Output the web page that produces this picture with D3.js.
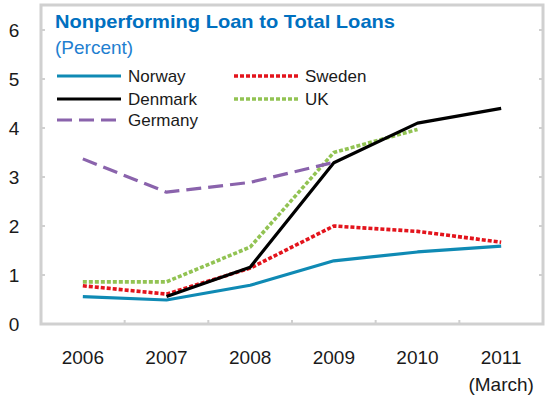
<!DOCTYPE html>
<html><head><meta charset="utf-8">
<script src="https://cdn.jsdelivr.net/npm/d3@7"></script>
<style>
body{margin:0;background:#fff;}
svg{display:block;font-family:"Liberation Sans",Arial,sans-serif;}
</style></head>
<body><svg id="c" width="547" height="396"></svg>
<script>
const years = ["2006","2007","2008","2009","2010","2011"];
const yTicks = [0,1,2,3,4,5,6];
const norway  = [0.56,0.49,0.79,1.29,1.47,1.59];
const sweden  = [0.78,0.61,1.14,2.0,1.89,1.67];
const denmark = [null,0.56,1.16,3.29,4.1,4.4];
const uk      = [0.86,0.86,1.57,3.5,3.97,null];
const germany = [3.37,2.69,2.89,3.3,null,null];
const seriesNames = ["Norway","Sweden","Denmark","UK","Germany"];

const series = [
  {name:"Norway", vals:norway, color:"#0f8ab4", w:3.2, dash:null, lx:57, ly:76},
  {name:"Sweden", vals:sweden, color:"#e3141c", w:3.6, dash:"4,2", lx:234, ly:76},
  {name:"Denmark", vals:denmark, color:"#000000", w:3.2, dash:null, lx:57, ly:99},
  {name:"UK", vals:uk, color:"#92c353", w:3.6, dash:"4,2", lx:234, ly:99},
  {name:"Germany", vals:germany, color:"#8a63ac", w:3.2, dash:"15,7", lx:57, ly:120}
];

const svg = d3.select("#c");
const L=41, R=543, T=5, B=324;
const x = d3.scaleBand().domain(years).range([L,R]);
const y = d3.scaleLinear().domain([0,6]).range([B,30]);
const frameColor="#d0d0d0";

// frame
svg.append("rect").attr("x",L).attr("y",T).attr("width",R-L).attr("height",B-T)
  .attr("fill","none").attr("stroke",frameColor).attr("stroke-width",3);

// y ticks left and right (inward)
const yl = svg.append("g");
yTicks.forEach(t=>{
  if(t>0){
    yl.append("line").attr("x1",L).attr("x2",L+4).attr("y1",y(t)).attr("y2",y(t)).attr("stroke",frameColor).attr("stroke-width",2);
    yl.append("line").attr("x1",R-4).attr("x2",R).attr("y1",y(t)).attr("y2",y(t)).attr("stroke",frameColor).attr("stroke-width",2);
  }
  yl.append("text").attr("x",14).attr("y",y(t)).attr("dy","0.36em").attr("text-anchor","middle")
    .attr("font-size",19).attr("fill","#1a1a1a").text(t);
});

// x ticks at band boundaries (inward)
years.slice(1).forEach(yr=>{
  const xx = x(yr);
  svg.append("line").attr("x1",xx).attr("x2",xx).attr("y1",B).attr("y2",B-4).attr("stroke",frameColor).attr("stroke-width",2);
});
years.forEach(yr=>{
  svg.append("text").attr("x",x(yr)+x.bandwidth()/2).attr("y",357).attr("dy","0.36em")
    .attr("text-anchor","middle").attr("font-size",19).attr("fill","#1a1a1a").text(yr);
});
svg.append("text").attr("x",x("2011")+x.bandwidth()/2).attr("y",384).attr("dy","0.36em")
  .attr("text-anchor","middle").attr("font-size",19).attr("fill","#1a1a1a").text("(March)");

// lines
const line = d3.line().defined(d=>d.v!==null).x(d=>x(d.k)+x.bandwidth()/2).y(d=>y(d.v));
[0,1,3,2,4].forEach(i=>{
  const s=series[i];
  svg.append("path").datum(years.map((k,j)=>({k,v:s.vals[j]})))
    .attr("d",line).attr("fill","none").attr("stroke",s.color).attr("stroke-width",s.w)
    .attr("stroke-dasharray",s.dash).attr("stroke-linejoin","round");
});

// title
svg.append("text").attr("x",55).attr("y",28).attr("font-size",19).attr("font-weight","bold")
  .attr("fill","#0070c0").attr("textLength",340).attr("lengthAdjust","spacingAndGlyphs")
  .text("Nonperforming Loan to Total Loans");
svg.append("text").attr("x",55).attr("y",54).attr("font-size",19)
  .attr("fill","#1f7fd0").text("(Percent)");

// legend
series.forEach(s=>{
  svg.append("line").attr("x1",s.lx).attr("x2",s.lx+64).attr("y1",s.ly).attr("y2",s.ly)
    .attr("stroke",s.color).attr("stroke-width",s.w).attr("stroke-dasharray",s.dash);
  svg.append("text").attr("x",s.lx+71).attr("y",s.ly).attr("dy","0.36em").attr("font-size",17)
    .attr("fill","#1a1a1a").text(s.name);
});
</script></body></html>
